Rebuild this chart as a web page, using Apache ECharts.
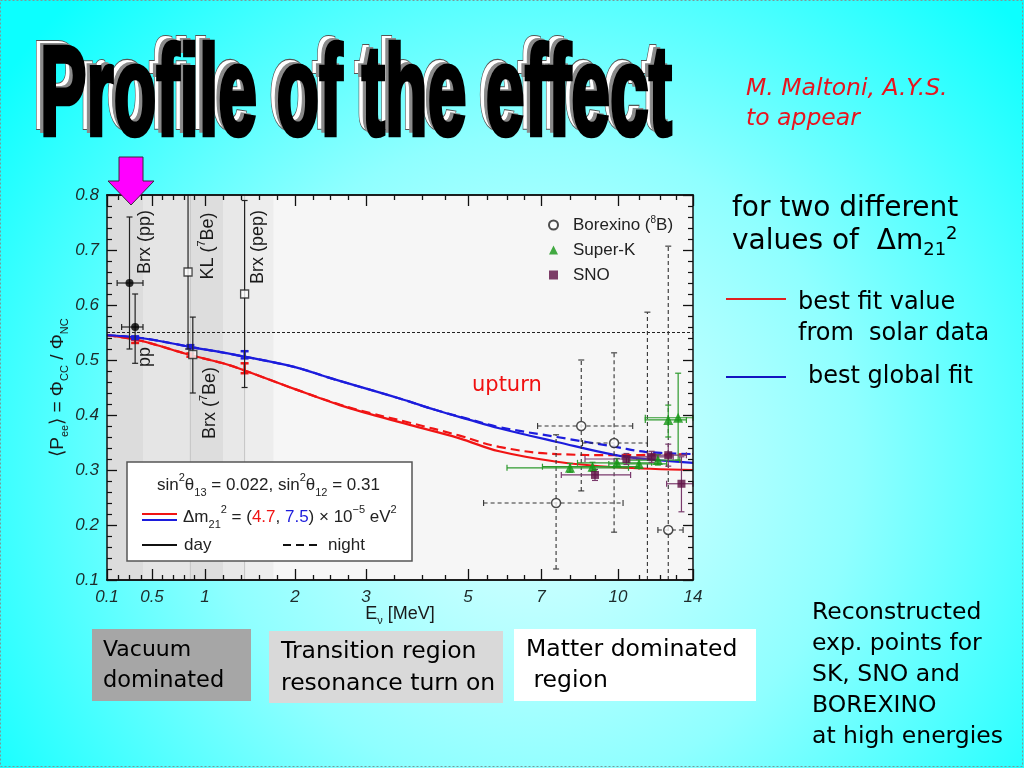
<!DOCTYPE html>
<html><head><meta charset="utf-8">
<script src="https://cdn.jsdelivr.net/npm/echarts@6/dist/echarts.min.js"></script>
<style>html,body{margin:0;padding:0;width:1024px;height:768px;overflow:hidden}#c{width:1024px;height:768px}</style>
</head><body><div id="c"></div>
<script>
// ---------------- data ----------------
const xTickLabels = [0.1, 0.5, 1, 2, 3, 5, 7, 10, 14];
const xMinorTicks = [0.2,0.3,0.4,0.6,0.7,0.8,0.9,1.2,1.4,1.6,1.8,2.25,2.5,2.75,3.5,4,4.5,5.5,6,6.5,8,9,11,12,13];
// non-uniform energy scale of the original figure (energy -> axis units)
const scaleKnotsE = [0.1, 0.5, 1, 2, 3, 4, 5, 6, 7, 8, 9, 10, 12, 14];
const scaleKnotsU = [0, 45, 98, 188, 259, 315, 361, 400, 434, 463, 488, 511, 553, 586];
const yMin = 0.1, yMax = 0.8, yStep = 0.1;

// grey energy bands of the low-energy region
const bandRangesE = [[0.1,0.42],[0.42,0.862],[0.862,1.2],[1.2,1.44],[1.44,1.76]];
const bandEdgeLinesE = [0.862, 1.44];
const vacuumLevel = 0.55;

// curves: Δm21² = 4.7e-5 (red), 7.5e-5 (blue), day (solid) / night (dashed)
const redE       = [0.1, 0.4, 0.86, 1.2, 1.44, 2, 2.63, 3.06, 3.78, 4.8, 5.8, 7.55, 9.9, 14];
const redDayP    = [0.545,0.535,0.509,0.494,0.481,0.447,0.418,0.402,0.382,0.358,0.334,0.315,0.305,0.300];
const redNightP  = [0.545,0.535,0.509,0.494,0.481,0.447,0.419,0.404,0.386,0.363,0.342,0.329,0.327,0.329];
const blueE      = [0.1, 0.4, 0.86, 1.44, 2, 2.5, 3.6, 4.3, 5.0, 5.8, 7.55, 9.9, 11.3, 14];
const blueDayP   = [0.545,0.540,0.524,0.506,0.487,0.467,0.430,0.409,0.392,0.376,0.351,0.327,0.320,0.313];
const blueNightP = [0.545,0.540,0.524,0.506,0.487,0.467,0.430,0.409,0.393,0.378,0.360,0.342,0.333,0.329];

// predicted averages [E, low, high]
const predRed  = [[0.35,0.531,0.537],[0.862,0.506,0.512],[1.44,0.476,0.494]];
const predBlue = [[0.35,0.538,0.543],[0.862,0.521,0.527],[1.44,0.503,0.516]];

// measurements [E, P, Elow, Ehigh, Plow, Phigh]
const lowEnergyFilled = [[0.30,0.64,0.19,0.42,0.52,0.76],[0.35,0.56,0.23,0.42,0.494,0.62]];
const lowEnergyOpen   = [[0.84,0.66,0.84,0.84,0.52,0.85],[0.885,0.51,0.885,0.885,0.44,0.578],[1.44,0.62,1.44,1.44,0.45,0.79]];
const borexino8B = [
  [7.52,0.240,5.4,10.24,0.12,0.364],
  [8.45,0.380,6.9,10.7,0.262,0.50],
  [9.83,0.349,8.5,11.4,0.187,0.513],
  [11.4,0.050,11.4,11.4,0.0,0.587],
  [12.5,0.191,11.9,13.4,0.0,0.707]
];
const superK = [
  [8.0,0.304,6.0,10.5,0.296,0.312],
  [8.9,0.306,7.05,11.0,0.298,0.314],
  [9.95,0.313,8.3,11.6,0.305,0.321],
  [11.0,0.311,9.6,12.4,0.303,0.319],
  [11.9,0.318,10.5,13.2,0.309,0.328],
  [12.5,0.391,11.3,13.6,0.36,0.418],
  [13.1,0.395,11.3,14.0,0.318,0.476]
];
const sno = [
  [9.0,0.291,7.7,10.6,0.281,0.301],
  [10.4,0.320,8.6,11.8,0.310,0.330],
  [11.6,0.324,10.2,12.8,0.314,0.334],
  [12.5,0.327,11.4,13.6,0.307,0.347],
  [13.3,0.275,12.4,14.0,0.224,0.324]
];

// ---------------- helpers ----------------
function toU(E) {
  const k = scaleKnotsE, u = scaleKnotsU;
  if (E <= k[0]) return u[0];
  for (let i = 1; i < k.length; i++) {
    if (E <= k[i]) return u[i-1] + (E - k[i-1]) / (k[i] - k[i-1]) * (u[i] - u[i-1]);
  }
  return u[u.length-1];
}
const U_MAX = toU(14);
const curve = (E, P) => E.map((e, i) => [toU(e), P[i]]);
const meas = rows => rows.map(r => [toU(r[0]), r[1], toU(r[2]), toU(r[3]), r[4], r[5]]);
const xMajorU = xTickLabels.map(toU);
const xMinorU = xMinorTicks.map(toU);

const PF = 'Liberation Sans';
const SF = 'DejaVu Sans';
const RED = '#f01414', BLUE = '#1c1cdc';

function errRenderer(color, width, dash, cap) {
  return function (params, api) {
    const x = api.value(0), y = api.value(1), xl = api.value(2), xh = api.value(3), yl = api.value(4), yh = api.value(5);
    const st = {stroke: color, lineWidth: width, lineDash: dash, fill: null};
    const cs = {stroke: color, lineWidth: width, fill: null};
    const kids = [];
    const ylc = Math.max(yl, yMin), yhc = Math.min(yh, yMax);
    if (yhc > ylc) {
      const a = api.coord([x, ylc]), b = api.coord([x, yhc]);
      kids.push({type:'line', shape:{x1:a[0],y1:a[1],x2:b[0],y2:b[1]}, style: st});
      if (yl >= yMin) kids.push({type:'line', shape:{x1:a[0]-cap,y1:a[1],x2:a[0]+cap,y2:a[1]}, style: cs});
      if (yh <= yMax) kids.push({type:'line', shape:{x1:b[0]-cap,y1:b[1],x2:b[0]+cap,y2:b[1]}, style: cs});
    }
    if (xh > xl && y >= yMin) {
      const a = api.coord([xl, y]), b = api.coord([xh, y]);
      kids.push({type:'line', shape:{x1:a[0],y1:a[1],x2:b[0],y2:b[1]}, style: st});
      kids.push({type:'line', shape:{x1:a[0],y1:a[1]-cap,x2:a[0],y2:a[1]+cap}, style: cs});
      kids.push({type:'line', shape:{x1:b[0],y1:b[1]-cap,x2:b[0],y2:b[1]+cap}, style: cs});
    }
    return {type:'group', children: kids};
  };
}
function predRenderer(color) {
  return function (params, api) {
    const a = api.coord([api.value(0), api.value(1)]), b = api.coord([api.value(0), api.value(2)]);
    const s = {stroke: color, lineWidth: 2.5};
    return {type:'group', children:[
      {type:'line', shape:{x1:a[0],y1:a[1],x2:b[0],y2:b[1]}, style:s},
      {type:'line', shape:{x1:b[0]-4,y1:b[1],x2:b[0]+4,y2:b[1]}, style:s},
      {type:'line', shape:{x1:a[0]-4,y1:a[1],x2:a[0]+4,y2:a[1]}, style:s}
    ]};
  };
}
const bandShades = ['#dcdcdc','#e5e5e5','#dddddd','#e8e8e8','#ededed'];

function xAxisCfg(position, ticksU, len, showLabel) {
  return {
    type:'value', gridIndex:0, position, min:0, max:U_MAX, z:10,
    axisLine:{show:true, onZero:false, lineStyle:{color:'#111', width:1.5}},
    axisTick:{show:true, inside:true, length:len, customValues:ticksU, lineStyle:{color:'#111', width:1.3}},
    axisLabel:{show: !!showLabel, customValues:ticksU, margin:9, fontFamily:PF, fontStyle:'italic', fontSize:17, color:'#1e2b2b',
      formatter: v => { const i = xMajorU.findIndex(t => Math.abs(t - v) < 0.01); return i >= 0 ? String(xTickLabels[i]) : ''; }},
    splitLine:{show:false}
  };
}
function yAxisCfg(position, showLabel) {
  return {
    type:'value', gridIndex:0, position, min:yMin, max:yMax, interval:yStep, z:10,
    axisLine:{show:true, onZero:false, lineStyle:{color:'#111', width:1.5}},
    axisTick:{show:true, inside:true, length:10, lineStyle:{color:'#111', width:1.3}},
    minorTick:{show:true, splitNumber:5, length:5, lineStyle:{color:'#111', width:1.2}},
    axisLabel:{show:showLabel, margin:8, fontFamily:PF, fontStyle:'italic', fontSize:17, color:'#1e2b2b', formatter: v => v.toFixed(1)},
    splitLine:{show:false}
  };
}

// title sizing
const titleText = 'Profile of the effect';
const mctx = document.createElement('canvas').getContext('2d');
mctx.font = 'bold 70px "' + PF + '"';
const titleSX = 632 / mctx.measureText(titleText).width;
const titleSY = 1.82;
function titleLayer(dx, dy, fill, stroke, lw, z) {
  return {type:'text', x: 40 + dx, y: 100 + dy, scaleX: titleSX, scaleY: titleSY, z,
    style:{text: titleText, font: 'bold 70px "' + PF + '"', fill, stroke, lineWidth: lw, align:'left', verticalAlign:'middle'}};
}
function stxt(x, y, text, size, fill, extra) {
  return {type:'text', x, y, z:50, style:Object.assign({text, fontFamily:SF, fontSize:size, fill, align:'left', verticalAlign:'middle'}, extra || {})};
}
function rotLabel(x, y, text) {
  return {type:'text', x, y, rotation: Math.PI/2, z:20,
    style:{text, fontFamily:PF, fontSize:18, fill:'#1a1a1a', align:'center', verticalAlign:'middle', lineHeight:24,
      rich:{n:{fontFamily:PF, fontSize:18, lineHeight:24, fill:'#1a1a1a'}, sup:{fontFamily:PF, fontSize:11, lineHeight:13, verticalAlign:'top', fill:'#1a1a1a'}}}};
}

const chart = echarts.init(document.getElementById('c'), null, {renderer:'canvas'});
const option = {
  animation:false,
  grid:{left:107, top:195, width:586, height:385, show:true, backgroundColor:'#f6f6f6', borderWidth:0, containLabel:false},
  xAxis:[
    Object.assign(xAxisCfg('bottom', xMajorU, 11, true), {name:'E{sub|ν} [MeV]', nameLocation:'middle', nameGap:22, nameMoveOverlap:false,
      nameTextStyle:{fontFamily:PF, fontSize:18, color:'#1a1a1a', lineHeight:24, rich:{sub:{fontFamily:PF, fontSize:11, lineHeight:12, verticalAlign:'bottom', color:'#1a1a1a'}}}}),
    xAxisCfg('bottom', xMinorU, 5, false),
    xAxisCfg('top', xMajorU, 11, false),
    xAxisCfg('top', xMinorU, 5, false)
  ],
  yAxis:[
    Object.assign(yAxisCfg('left', true), {name:'⟨P{sub|ee}⟩ = Φ{sub|CC} / Φ{sub|NC}', nameLocation:'middle', nameGap:37, nameRotate:90, nameMoveOverlap:false,
      nameTextStyle:{fontFamily:PF, fontSize:19, color:'#1a1a1a', lineHeight:24, rich:{sub:{fontFamily:PF, fontSize:11, lineHeight:12, verticalAlign:'bottom', color:'#1a1a1a'}}}}),
    yAxisCfg('right', false)
  ],
  legend:{
    data:['Borexino','Super-K','SNO'], orient:'vertical', left:543, top:210, itemWidth:9, itemHeight:9, itemGap:5,
    formatter: n => n === 'Borexino' ? 'Borexino ({sup|8}B)' : n,
    textStyle:{fontFamily:PF, fontSize:17, color:'#222', lineHeight:20, padding:[0,0,0,10],
      rich:{sup:{fontFamily:PF, fontSize:10, lineHeight:10, verticalAlign:'top', color:'#222'}}}
  },
  series:[
    {type:'custom', name:'bands', z:1, silent:true, data: bandRangesE.map((r, i) => [toU(r[0]), toU(r[1]), i]),
      encode:{x:[0,1]},
      renderItem:(p, api) => { const a = api.coord([api.value(0), yMax]), b = api.coord([api.value(1), yMin]);
        return {type:'rect', shape:{x:a[0], y:a[1], width:b[0]-a[0], height:b[1]-a[1]}, style:{fill: bandShades[api.value(2)]}}; }},
    {type:'custom', name:'bandEdges', z:1, silent:true, data: bandEdgeLinesE.map(e => [toU(e)]), encode:{x:0},
      renderItem:(p, api) => { const a = api.coord([api.value(0), yMax]), b = api.coord([api.value(0), yMin]);
        return {type:'line', shape:{x1:a[0],y1:a[1],x2:b[0],y2:b[1]}, style:{stroke:'#c4c4c4', lineWidth:1}}; }},
    {type:'line', name:'vac', z:2, silent:true, symbol:'none', data:[[toU(0.1), vacuumLevel],[toU(14), vacuumLevel]],
      lineStyle:{color:'#222', width:1, type:[3,2]}},
    {type:'line', name:'redNight', z:3, symbol:'none', smooth:0.4, data:curve(redE, redNightP), lineStyle:{color:RED, width:2.2, type:[9,5]}},
    {type:'line', name:'blueNight', z:3, symbol:'none', smooth:0.4, data:curve(blueE, blueNightP), lineStyle:{color:BLUE, width:2.2, type:[9,5]}},
    {type:'line', name:'redDay', z:3, symbol:'none', smooth:0.4, data:curve(redE, redDayP), lineStyle:{color:RED, width:2.2}},
    {type:'line', name:'blueDay', z:3, symbol:'none', smooth:0.4, data:curve(blueE, blueDayP), lineStyle:{color:BLUE, width:2.2}},
    {type:'custom', name:'predRed', z:4, data: predRed.map(r => [toU(r[0]), r[1], r[2]]), encode:{x:0, y:[1,2]}, renderItem: predRenderer(RED)},
    {type:'custom', name:'predBlue', z:4, data: predBlue.map(r => [toU(r[0]), r[1], r[2]]), encode:{x:0, y:[1,2]}, renderItem: predRenderer(BLUE)},
    {type:'custom', name:'lowErrF', z:5, data: meas(lowEnergyFilled), encode:{x:0, y:1}, renderItem: errRenderer('#222', 1.2, null, 3)},
    {type:'custom', name:'lowErrO', z:5, data: meas(lowEnergyOpen), encode:{x:0, y:1}, renderItem: errRenderer('#222', 1.2, null, 3)},
    {type:'custom', name:'bxErr', z:5, data: meas(borexino8B), encode:{x:0, y:1}, renderItem: errRenderer('#333', 1.1, [4,3], 3)},
    {type:'custom', name:'skErr', z:5, data: meas(superK), encode:{x:0, y:1}, renderItem: errRenderer('#2e9a2e', 1.2, null, 3)},
    {type:'custom', name:'snoErr', z:5, data: meas(sno), encode:{x:0, y:1}, renderItem: errRenderer('#7a3a6c', 1.2, null, 3)},
    {type:'scatter', name:'lowF', z:6, symbol:'circle', symbolSize:8, data: meas(lowEnergyFilled).map(r => [r[0], r[1]]), itemStyle:{color:'#000'}},
    {type:'scatter', name:'lowO', z:6, symbol:'rect', symbolSize:8, data: meas(lowEnergyOpen).map(r => [r[0], r[1]]), itemStyle:{color:'#fff', borderColor:'#222', borderWidth:1.3}},
    {type:'scatter', name:'Borexino', z:6, symbol:'circle', symbolSize:9, clip:true, data: meas(borexino8B).map(r => [r[0], r[1]]), itemStyle:{color:'#fff', borderColor:'#222', borderWidth:1.5}},
    {type:'scatter', name:'Super-K', z:6, symbol:'triangle', symbolSize:10, data: meas(superK).map(r => [r[0], r[1]]), itemStyle:{color:'#149614'}},
    {type:'scatter', name:'SNO', z:6, symbol:'rect', symbolSize:8, data: meas(sno).map(r => [r[0], r[1]]), itemStyle:{color:'#5e0f44'}}
  ],
  graphic:[
    {type:'rect', z:-100, silent:true, shape:{x:0, y:0, width:1024, height:768},
      style:{fill:{type:'radial', x:0.52, y:0.6, r:0.85, colorStops:[{offset:0, color:'#e4ffff'},{offset:0.5, color:'#8fffff'},{offset:1, color:'#0cffff'}]}}},
    {type:'rect', z:-99, silent:true, shape:{x:0.5, y:0.5, width:1022, height:766}, style:{fill:null, stroke:'#7a9a9a', lineWidth:1, lineDash:[2,2]}},
    titleLayer(-8, -6, '#ffffff', '#555', 1.2, 30),
    titleLayer(-4, -3, '#8a8a8a', '#8a8a8a', 1, 31),
    titleLayer(0, 0, '#000000', '#000000', 2.6, 32),
    {type:'polygon', z:40, shape:{points:[[119,157],[143,157],[143,181],[154,181],[131,205],[108,181],[119,181]]},
      style:{fill:'#ff00ff', stroke:'#3a2a3a', lineWidth:1}},
    stxt(746, 89, 'M. Maltoni, A.Y.S.', 23.5, '#e8141e', {fontStyle:'italic'}),
    stxt(746, 119, 'to appear', 23.5, '#e8141e', {fontStyle:'italic'}),
    stxt(732, 209, 'for two different', 28, '#000'),
    stxt(732, 242, 'values of  Δm{sub|21}{sup|2}', 28, '#000', {lineHeight:34,
      rich:{sub:{fontFamily:SF, fontSize:18, lineHeight:19, verticalAlign:'bottom', fill:'#000'}, sup:{fontFamily:SF, fontSize:18, lineHeight:19, verticalAlign:'top', fill:'#000'}}}),
    {type:'line', z:50, shape:{x1:726, y1:299, x2:786, y2:299}, style:{stroke:'#e02020', lineWidth:2}},
    stxt(798, 303, 'best fit value', 24, '#000'),
    stxt(798, 334, 'from  solar data', 24, '#000'),
    {type:'line', z:50, shape:{x1:726, y1:377, x2:786, y2:377}, style:{stroke:'#1414c0', lineWidth:2}},
    stxt(808, 377, 'best global fit', 24, '#000'),
    stxt(472, 386, 'upturn', 21, '#f01010'),
    stxt(812, 613, 'Reconstructed', 23.5, '#000'),
    stxt(812, 644, 'exp. points for', 23.5, '#000'),
    stxt(812, 675, 'SK, SNO and', 23.5, '#000'),
    stxt(812, 706, 'BOREXINO', 23.5, '#000'),
    stxt(812, 737, 'at high energies', 23.5, '#000'),
    {type:'rect', z:45, shape:{x:92, y:629, width:159, height:72}, style:{fill:'#a6a6a6'}},
    stxt(103, 650, 'Vacuum', 22, '#000'),
    stxt(103, 681, 'dominated', 22.5, '#000'),
    {type:'rect', z:45, shape:{x:269, y:631, width:234, height:72}, style:{fill:'#d9d9d9'}},
    stxt(281, 652, 'Transition region', 23.5, '#000'),
    stxt(281, 684, 'resonance turn on', 23.5, '#000'),
    {type:'rect', z:45, shape:{x:514, y:629, width:242, height:72}, style:{fill:'#ffffff'}},
    stxt(526, 650, 'Matter dominated', 23.5, '#000'),
    stxt(526, 681, ' region', 23.5, '#000'),
    rotLabel(145, 242, 'Brx (pp)'),
    rotLabel(145, 357, 'pp'),
    rotLabel(208, 246, 'KL ({sup|7}Be)'),
    rotLabel(210, 403, 'Brx ({sup|7}Be)'),
    rotLabel(258, 247, 'Brx (pep)'),
    {type:'group', z:60, children:[
      {type:'rect', z:60, shape:{x:127, y:462, width:285, height:99}, style:{fill:'#ffffff', stroke:'#555', lineWidth:1.5}},
      {type:'text', z:61, x:157, y:485, style:{text:'sin{sup|2}θ{sub|13} = 0.022, sin{sup|2}θ{sub|12} = 0.31', fontFamily:PF, fontSize:17, fill:'#222', lineHeight:26, verticalAlign:'middle',
        rich:{sup:{fontFamily:PF, fontSize:11, lineHeight:12, verticalAlign:'top', fill:'#222'}, sub:{fontFamily:PF, fontSize:11, lineHeight:12, verticalAlign:'bottom', fill:'#222'}}}},
      {type:'line', z:61, shape:{x1:142, y1:514, x2:177, y2:514}, style:{stroke:RED, lineWidth:2.2}},
      {type:'line', z:61, shape:{x1:142, y1:520, x2:177, y2:520}, style:{stroke:BLUE, lineWidth:2.2}},
      {type:'text', z:61, x:183, y:517, style:{text:'Δm{sub|21}{sup|2} = ({r|4.7}, {b|7.5}) × 10{sup|−5} eV{sup|2}', fontFamily:PF, fontSize:17, fill:'#222', lineHeight:26, verticalAlign:'middle',
        rich:{sup:{fontFamily:PF, fontSize:11, lineHeight:12, verticalAlign:'top', fill:'#222'}, sub:{fontFamily:PF, fontSize:11, lineHeight:12, verticalAlign:'bottom', fill:'#222'},
          r:{fontFamily:PF, fontSize:17, fill:RED}, b:{fontFamily:PF, fontSize:17, fill:BLUE}}}},
      {type:'line', z:61, shape:{x1:142, y1:545, x2:177, y2:545}, style:{stroke:'#111', lineWidth:2}},
      {type:'text', z:61, x:184, y:545, style:{text:'day', fontFamily:PF, fontSize:17, fill:'#222', verticalAlign:'middle'}},
      {type:'line', z:61, shape:{x1:283, y1:545, x2:318, y2:545}, style:{stroke:'#111', lineWidth:2, lineDash:[8,5]}},
      {type:'text', z:61, x:328, y:545, style:{text:'night', fontFamily:PF, fontSize:17, fill:'#222', verticalAlign:'middle'}}
    ]}
  ]
};
chart.setOption(option);
</script>
</body></html>
